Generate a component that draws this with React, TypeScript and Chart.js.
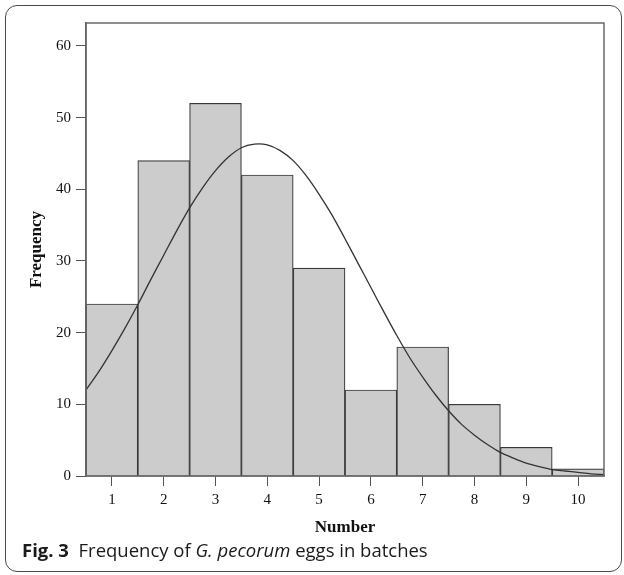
import React, { useEffect, useRef } from "react";
import { Chart, registerables } from "chart.js";

Chart.register(...registerables);

const categories: number[] = [1, 2, 3, 4, 5, 6, 7, 8, 9, 10];
const frequencies: number[] = [24, 44, 52, 42, 29, 12, 18, 10, 4, 1];
const curveX: number[] = [
  0.5, 0.75, 1, 1.25, 1.5, 1.75, 2, 2.25, 2.5, 2.75, 3, 3.25, 3.5, 3.75, 4, 4.25, 4.5, 4.75, 5, 5.25, 5.5,
  5.75, 6, 6.25, 6.5, 6.75, 7, 7.25, 7.5, 7.75, 8, 8.25, 8.5, 8.75, 9, 9.25, 9.5, 9.75, 10, 10.25, 10.5,
];
const curveY: number[] = [
  12.0, 14.6, 17.5, 20.6, 23.9, 27.4, 30.8, 34.2, 37.4, 40.2, 42.6, 44.5, 45.8, 46.3, 46.2, 45.4, 44.0, 41.9, 39.3, 36.4, 33.1,
  29.7, 26.3, 22.9, 19.6, 16.5, 13.8, 11.3, 9.1, 7.2, 5.7, 4.4, 3.3, 2.5, 1.8, 1.3, 0.9, 0.7, 0.5, 0.3, 0.2,
];
const yTicks: number[] = [0, 10, 20, 30, 40, 50, 60];

const SERIF = "'Liberation Serif', 'DejaVu Serif', serif";

const frameBox = {
  id: "frameBox",
  afterDraw(chart: any) {
    const { ctx, chartArea } = chart;
    ctx.save();
    ctx.strokeStyle = "#6a6a6a";
    ctx.lineWidth = 1.5;
    ctx.strokeRect(chartArea.left, chartArea.top, chartArea.right - chartArea.left, chartArea.bottom - chartArea.top);
    ctx.restore();
  },
};

function HistogramChart() {
  const ref = useRef<HTMLCanvasElement | null>(null);
  useEffect(() => {
    if (!ref.current) return;
    const chart = new Chart(ref.current, {
      type: "bar",
      data: {
        datasets: [
          {
            type: "line",
            data: curveX.map((x, i) => ({ x, y: curveY[i] })),
            borderColor: "#333333",
            borderWidth: 1.3,
            pointRadius: 0,
            tension: 0.3,
            fill: false,
            order: 0,
          } as any,
          {
            type: "bar",
            data: categories.map((c, i) => ({ x: c, y: frequencies[i] })),
            backgroundColor: "#cccccc",
            borderColor: "#3a3a3a",
            borderWidth: 1.2,
            categoryPercentage: 1,
            barPercentage: 1,
            grouped: false,
            order: 1,
          } as any,
        ],
      },
      options: {
        responsive: false,
        animation: false,
        layout: { padding: { left: 0, top: 23, right: 20, bottom: 0 } },
        plugins: { legend: { display: false }, tooltip: { enabled: false } },
        scales: {
          x: {
            type: "linear",
            min: 0.5,
            max: 10.5,
            offset: false,
            grid: { drawOnChartArea: false, drawTicks: true, tickLength: 10, color: "#555555", offset: false },
            border: { display: true, color: "#555555", width: 1.5 },
            afterBuildTicks(scale: any) {
              scale.ticks = categories.map((v) => ({ value: v }));
            },
            ticks: {
              color: "#111111",
              font: { family: SERIF, size: 15 },
              padding: 5,
              maxRotation: 0,
              autoSkip: false,
            },
            title: {
              display: true,
              text: "Number",
              color: "#111111",
              font: { family: SERIF, size: 17, weight: "bold" },
              padding: { top: 0, bottom: 2 },
            },
            afterFit(scale: any) {
              scale.height = 64;
            },
          } as any,
          y: {
            type: "linear",
            min: 0,
            max: 63.2,
            grid: { drawOnChartArea: false, drawTicks: true, tickLength: 10, color: "#555555" },
            border: { display: true, color: "#555555", width: 1.5 },
            ticks: {
              stepSize: 10,
              color: "#111111",
              font: { family: SERIF, size: 15 },
              padding: 5,
            },
            afterBuildTicks(scale: any) {
              scale.ticks = yTicks.map((v) => ({ value: v }));
            },
            title: {
              display: true,
              text: "Frequency",
              color: "#111111",
              font: { family: SERIF, size: 17, weight: "bold" },
              padding: { top: 26, bottom: 0 },
            },
            afterFit(scale: any) {
              scale.width = 86;
            },
          } as any,
        },
      },
      plugins: [frameBox],
    });
    return () => chart.destroy();
  }, []);
  return (
    <canvas
      ref={ref}
      width={624}
      height={540}
      style={{ position: "absolute", left: 0, top: 0, width: 624, height: 540 }}
    />
  );
}

export default function App() {
  return (
    <div
      style={{
        position: "fixed",
        left: 0,
        top: 0,
        width: 624,
        height: 575,
        overflow: "hidden",
        background: "#ffffff",
      }}
    >
      <div
        style={{
          position: "absolute",
          left: 5,
          top: 5,
          width: 617,
          height: 567,
          border: "1.5px solid #4a4a4a",
          borderRadius: 12,
          boxSizing: "border-box",
        }}
      />
      <HistogramChart />
      <div
        style={{
          position: "absolute",
          left: 22,
          top: 538,
          fontFamily: "'Open Sans', 'Noto Sans', sans-serif",
          fontSize: 18.5,
          color: "#1a1a1a",
          whiteSpace: "pre",
          lineHeight: "24px",
        }}
      >
        <b>Fig. 3</b>
        {"  Frequency of "}
        <i>G. pecorum</i>
        {" eggs in batches"}
      </div>
    </div>
  );
}
